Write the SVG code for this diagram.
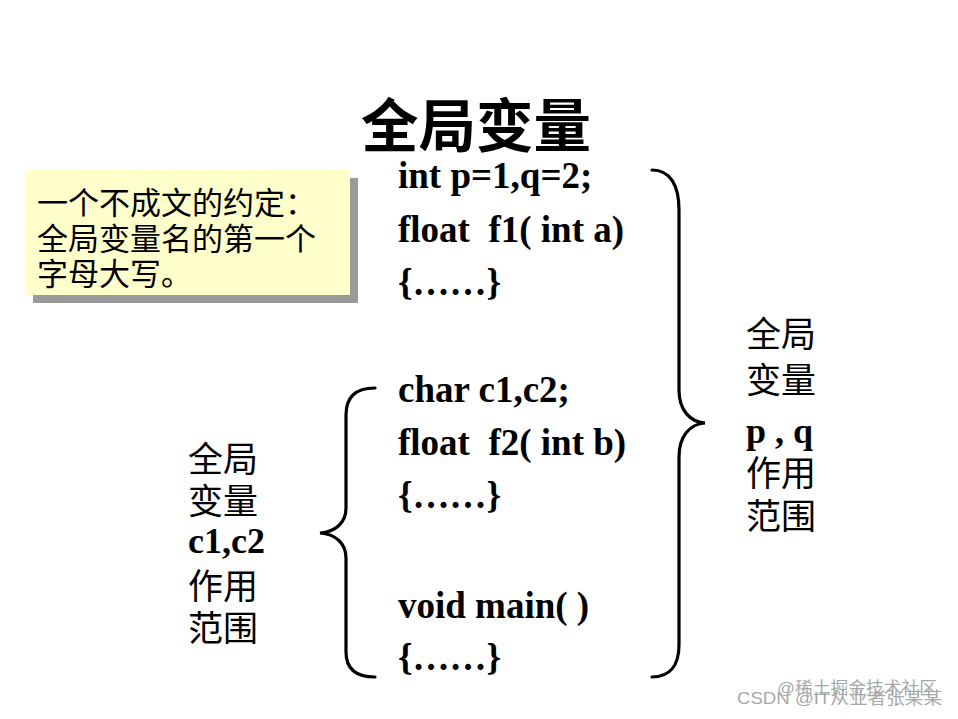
<svg xmlns="http://www.w3.org/2000/svg" width="958" height="719" viewBox="0 0 958 719">
<style>
.cjk{font-family:"Noto Sans CJK SC","Noto Sans CJK JP",sans-serif;fill:#000}
.code{font-family:"Liberation Serif","Times New Roman",serif;font-weight:bold;font-size:37px;fill:#000}
.lbl{font-family:"Noto Sans CJK SC",sans-serif;font-size:35px;fill:#000}
.lblc{font-family:"Liberation Serif",serif;font-weight:bold;font-size:36px;fill:#000}
.brace{fill:none;stroke:#000;stroke-width:3.2;stroke-linecap:round}
.wm{font-family:"Liberation Sans","Noto Sans CJK SC",sans-serif;font-size:17px;fill:#a8a8a8}
</style>
<rect width="958" height="719" fill="#fff"/>
<g id="title">
<text class="cjk" x="361" y="147" font-size="58" font-weight="bold" textLength="230" lengthAdjust="spacingAndGlyphs">全局变量</text>
</g>
<g id="note">
<rect x="33" y="178" width="325" height="125" fill="#9a9a9a"/>
<rect x="25" y="170" width="325" height="125" fill="#ffffcc"/>
<text class="cjk" x="37" y="214" font-size="31">一个不成文的约定：</text>
<text class="cjk" x="37" y="250" font-size="31">全局变量名的第一个</text>
<text class="cjk" x="37" y="285" font-size="31">字母大写。</text>
</g>
<g id="code">
<text class="code" x="398" y="188">int p=1,q=2;</text>
<text class="code" x="398" y="242" xml:space="preserve">float  f1( int a)</text>
<text class="code" x="398" y="295">{……}</text>
<text class="code" x="398" y="402">char c1,c2;</text>
<text class="code" x="398" y="455" xml:space="preserve">float  f2( int b)</text>
<text class="code" x="398" y="508">{……}</text>
<text class="code" x="398" y="618">void main( )</text>
<text class="code" x="398" y="670">{……}</text>
</g>
<g id="label-pq">
<text class="lbl" x="746" y="347">全局</text>
<text class="lbl" x="746" y="393">变量</text>
<text class="lblc" x="746" y="443" font-size="35" xml:space="preserve">p , q</text>
<text class="lbl" x="746" y="486">作用</text>
<text class="lbl" x="746" y="529">范围</text>
</g>
<g id="label-c1c2">
<text class="lbl" x="188" y="472">全局</text>
<text class="lbl" x="188" y="514">变量</text>
<text class="lblc" x="188" y="553">c1,c2</text>
<text class="lbl" x="188" y="599">作用</text>
<text class="lbl" x="188" y="641">范围</text>
</g>
<g id="connectors">
<path class="brace" d="M375,388 C355,388 346,398 346,415 L346,508 C346,523 335,532 320,533 C335,534 346,543 346,558 L346,652 C346,668 355,677 375,677"/>
<path class="brace" d="M652,170 C670,170 679,185 679,210 L679,390 C679,410 690,422 705,423 C690,424 679,436 679,457 L679,645 C679,665 670,677 652,677"/>
</g>
<g id="watermark">
<text class="wm" x="777" y="694" textLength="160" lengthAdjust="spacingAndGlyphs">@稀土掘金技术社区</text>
<text class="wm" x="737" y="704" font-size="18" textLength="205" lengthAdjust="spacingAndGlyphs">CSDN @IT从业者张某某</text>
</g>
</svg>
